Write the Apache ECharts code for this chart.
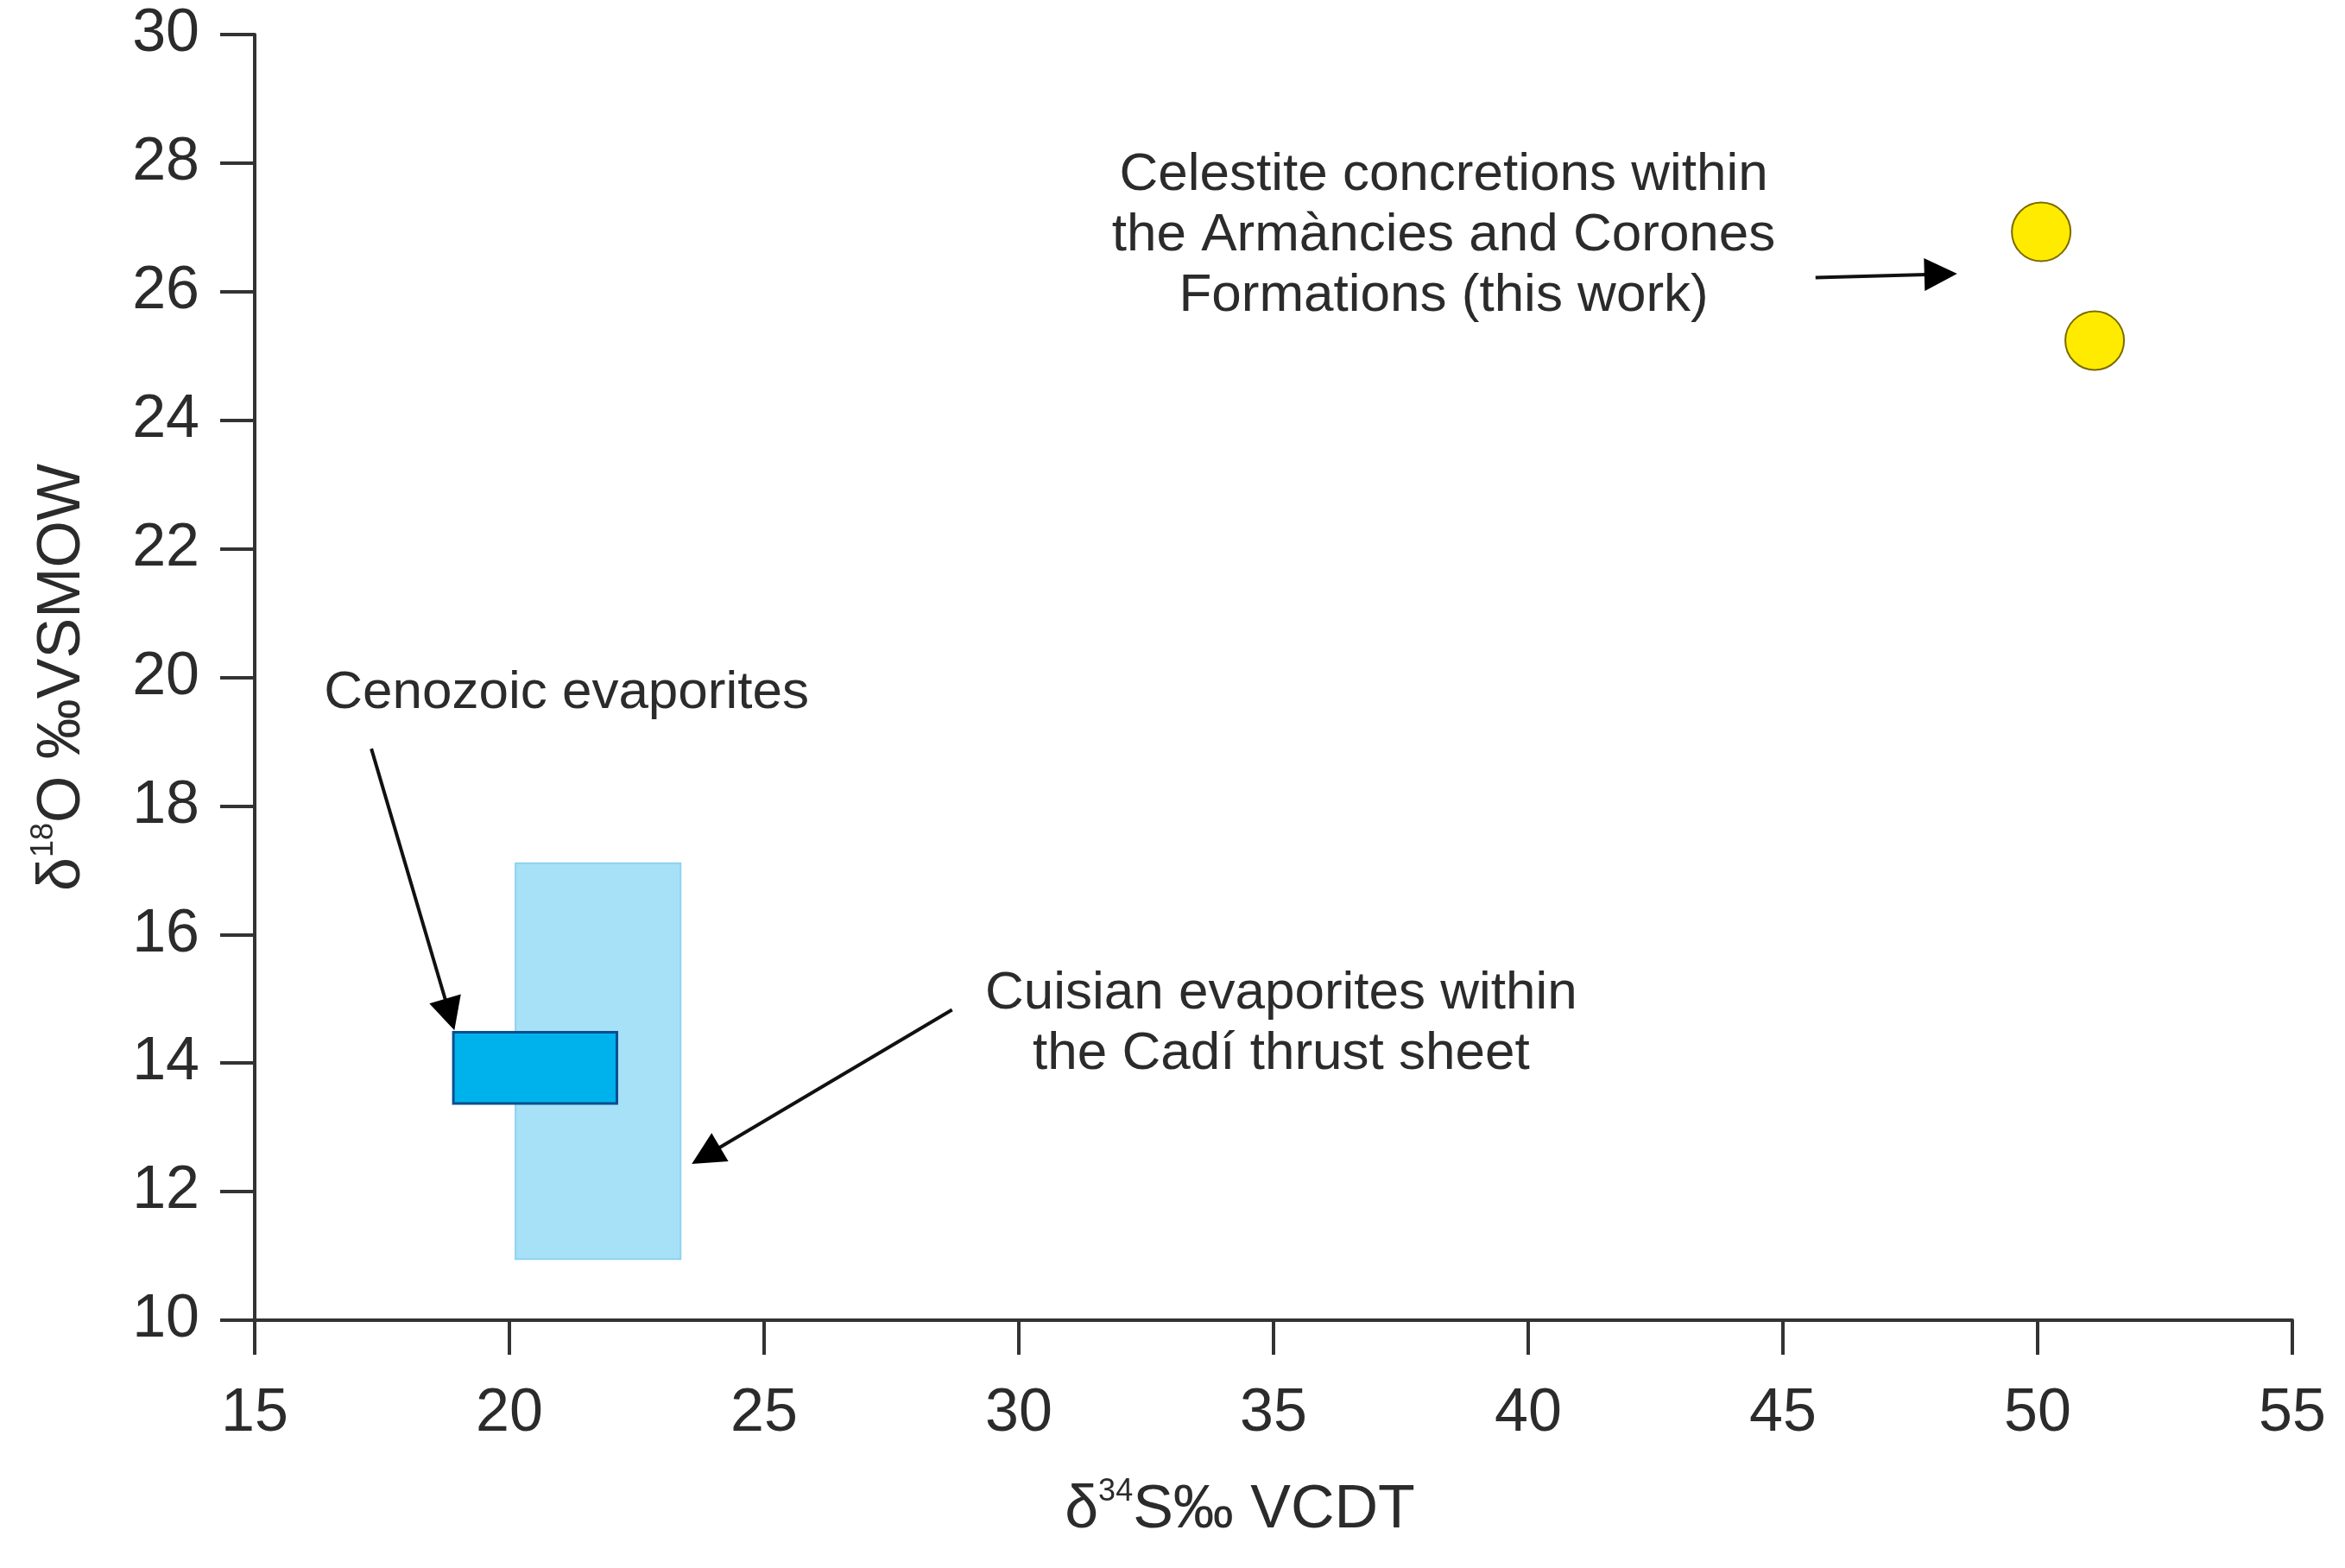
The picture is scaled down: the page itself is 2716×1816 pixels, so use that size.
<!DOCTYPE html>
<html>
<head>
<meta charset="utf-8">
<script src="https://cdn.jsdelivr.net/npm/echarts@6/dist/echarts.min.js"></script>
<style>
  html, body { margin: 0; padding: 0; background: #fff; }
  #chart { width: 2716px; height: 1816px; }
</style>
</head>
<body>
<div id="chart"></div>
<script>
// axis ranges
const xRange = [15, 55, 5];
const yRange = [10, 30, 2];

// celestite concretions (this work): [d34S, d18O]
const celestitePoints = [[50.07, 26.93], [51.12, 25.24]];

// fields: [xmin, xmax, ymin, ymax]
const cuisianField = [[20.12, 23.36, 10.95, 17.11]];
const cenozoicField = [[18.9, 22.11, 13.37, 14.48]];

// annotation arrows: [xFrom, yFrom, xTo, yTo]
const arrows = [
  [45.64, 26.22, 48.42, 26.28],
  [17.29, 18.89, 18.92, 14.51],
  [28.69, 14.83, 23.58, 12.43]
];

// annotation texts and their centres
const noteTexts = [
  'Celestite concretions within\nthe Armàncies and Corones\nFormations (this work)',
  'Cenozoic evaporites',
  'Cuisian evaporites within\nthe Cadí thrust sheet'
];
const notePositions = [[38.34, 26.87], [21.12, 19.75], [35.15, 14.61]];

const FONT = '"Liberation Sans", Arial, Helvetica, sans-serif';
const INK = '#2b2b2b';

const chart = echarts.init(document.getElementById('chart'));

function fieldRender(fill, stroke, width) {
  return (params, api) => {
    let p1 = api.coord([api.value(0), api.value(3)]);
    let p2 = api.coord([api.value(1), api.value(2)]);
    return {
      type: 'rect',
      shape: { x: p1[0], y: p1[1], width: p2[0] - p1[0], height: p2[1] - p1[1] },
      style: { fill: fill, stroke: stroke, lineWidth: width }
    };
  };
}

function arrowRender(params, api) {
  let a = api.coord([api.value(0), api.value(1)]);
  let b = api.coord([api.value(2), api.value(3)]);
  let ang = Math.atan2(b[1] - a[1], b[0] - a[0]);
  let L = 38, W = 19;
  let base = [b[0] - L * Math.cos(ang), b[1] - L * Math.sin(ang)];
  let left = [base[0] + W * Math.sin(ang), base[1] - W * Math.cos(ang)];
  let right = [base[0] - W * Math.sin(ang), base[1] + W * Math.cos(ang)];
  return {
    type: 'group',
    children: [
      { type: 'line', shape: { x1: a[0], y1: a[1], x2: base[0] + 2 * Math.cos(ang), y2: base[1] + 2 * Math.sin(ang) },
        style: { stroke: '#111', lineWidth: 4 } },
      { type: 'polygon', shape: { points: [b, left, right] }, style: { fill: '#000' } }
    ]
  };
}

function noteRender(params, api) {
  let p = api.coord([api.value(0), api.value(1)]);
  return {
    type: 'text',
    x: p[0],
    y: p[1],
    style: {
      text: noteTexts[params.dataIndex],
      fill: INK,
      fontSize: 62,
      fontFamily: FONT,
      align: 'center',
      verticalAlign: 'middle',
      lineHeight: 70
    }
  };
}

const nameRich = {
  a: { fontSize: 70, fontFamily: FONT, color: INK, lineHeight: 80 },
  s: { fontSize: 36, fontFamily: FONT, color: INK, lineHeight: 36, verticalAlign: 'top' }
};

const axisCommon = {
  type: 'value',
  nameLocation: 'middle',
  splitLine: { show: false },
  axisLine: { lineStyle: { color: '#333', width: 4 } },
  axisTick: { length: 40, lineStyle: { color: '#333', width: 4 } }
};

let option = {
  animation: false,
  backgroundColor: '#fff',
  grid: { left: 295, right: 61, top: 40, bottom: 287 },
  xAxis: Object.assign({}, axisCommon, {
    min: xRange[0], max: xRange[1], interval: xRange[2],
    name: '{a|δ}{s|34}{a|S‰ VCDT}',
    nameGap: 181,
    nameTextStyle: { rich: nameRich, padding: [0, 78, 0, 0] },
    axisLabel: { fontSize: 70, fontFamily: FONT, color: INK, margin: 74 }
  }),
  yAxis: Object.assign({}, axisCommon, {
    min: yRange[0], max: yRange[1], interval: yRange[2],
    name: '{a|δ}{s|18}{a|O ‰VSMOW}',
    nameGap: 182,
    nameTextStyle: { rich: nameRich },
    axisLabel: { fontSize: 70, fontFamily: FONT, color: INK, margin: 64 }
  }),
  series: [
    {
      name: 'Cuisian evaporites',
      type: 'custom',
      renderItem: fieldRender('#a6e1f7', '#8fd2ee', 2),
      data: cuisianField,
      z: 2
    },
    {
      name: 'Cenozoic evaporites',
      type: 'custom',
      renderItem: fieldRender('#00b2ec', '#0b4f8f', 3),
      data: cenozoicField,
      z: 3
    },
    {
      name: 'arrows',
      type: 'custom',
      renderItem: arrowRender,
      data: arrows,
      z: 4
    },
    {
      name: 'notes',
      type: 'custom',
      renderItem: noteRender,
      data: notePositions,
      z: 4
    },
    {
      name: 'Celestite',
      type: 'scatter',
      data: celestitePoints,
      symbol: 'circle',
      symbolSize: 68,
      itemStyle: { color: '#ffeb00', borderColor: '#7a6a00', borderWidth: 2, opacity: 1 },
      z: 5
    }
  ]
};

chart.setOption(option);
</script>
</body>
</html>
